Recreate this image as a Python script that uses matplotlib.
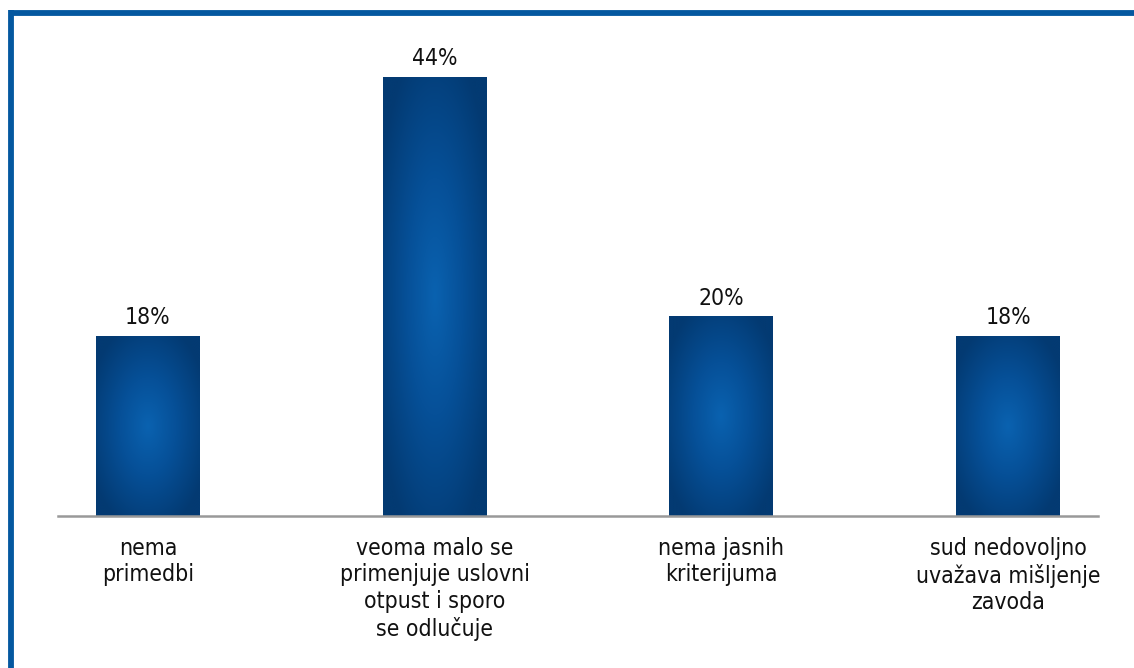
import numpy as np
import matplotlib
matplotlib.use("Agg")
import matplotlib.pyplot as plt
from matplotlib.colors import LinearSegmentedColormap
from matplotlib.lines import Line2D

categories = ["nema\nprimedbi",
              "veoma malo se\nprimenjuje uslovni\notpust i sporo\nse odlučuje",
              "nema jasnih\nkriterijuma",
              "sud nedovoljno\nuvažava mišljenje\nzavoda"]
values = [18, 44, 20, 18]
value_labels = ["18%", "44%", "20%", "18%"]

W, H = 1134, 668
fig = plt.figure(figsize=(W / 100, H / 100), dpi=100)
fig.patch.set_facecolor("white")

ax_left, ax_right = 58, 1098
ax_bottom, ax_top = 516, 20
ax = fig.add_axes([ax_left / W, 1 - ax_bottom / H, (ax_right - ax_left) / W, (ax_bottom - ax_top) / H])
ax.set_facecolor("none")

unit = 286.7
x = np.arange(len(values))
ax.set_xlim(-90 / unit, 3 + 90 / unit)
ax.set_ylim(0, (ax_bottom - ax_top) / 9.977)

bars = ax.bar(x, values, width=104 / unit, color="#053f7c", zorder=2)

cmap = LinearSegmentedColormap.from_list("bar", [(0, "#0a62b0"), (0.45, "#065098"), (1, "#033a72")])
n = 300
gx, gy = np.meshgrid(np.linspace(-1, 1, n), np.linspace(-1, 1, n))
r = np.clip(np.sqrt(gx ** 2 + gy ** 2) / np.sqrt(2), 0, 1)
for b in bars:
    bx, by = b.get_x(), b.get_y()
    bw, bh = b.get_width(), b.get_height()
    im = ax.imshow(r, cmap=cmap, vmin=0, vmax=0.85, extent=[bx, bx + bw, by, by + bh],
                   aspect="auto", zorder=3, interpolation="bilinear")
    im.set_clip_path(b)

fam = ["DejaVu Sans"]
for xi, v, lab in zip(x, values, value_labels):
    ax.annotate(lab, (xi, v), xytext=(0, 8.6), textcoords="offset points",
                ha="center", va="baseline", fontsize=16.5, color="#111111",
                family=fam, fontstretch="condensed")

ax.set_xticks(x)
ax.set_xticklabels(categories, fontsize=16.5, color="#111111", linespacing=1.2,
                   family=fam, fontstretch="condensed")
ax.tick_params(axis="x", length=0, pad=15)
ax.set_yticks([])
for s in ["top", "right", "left"]:
    ax.spines[s].set_visible(False)
ax.spines["bottom"].set_color("#999999")
ax.spines["bottom"].set_linewidth(1.8)
ax.spines["bottom"].set_zorder(4)

fig.add_artist(Line2D([11 / W, 1.0], [1 - 12.5 / H, 1 - 12.5 / H], color="#0458a0", lw=4.2,
                      transform=fig.transFigure, solid_capstyle="butt"))
fig.add_artist(Line2D([11 / W, 11 / W], [0.0, 1 - 10.4 / H], color="#0458a0", lw=4.2,
                      transform=fig.transFigure, solid_capstyle="butt"))

fig.savefig("out.png", dpi=100, facecolor="white")
